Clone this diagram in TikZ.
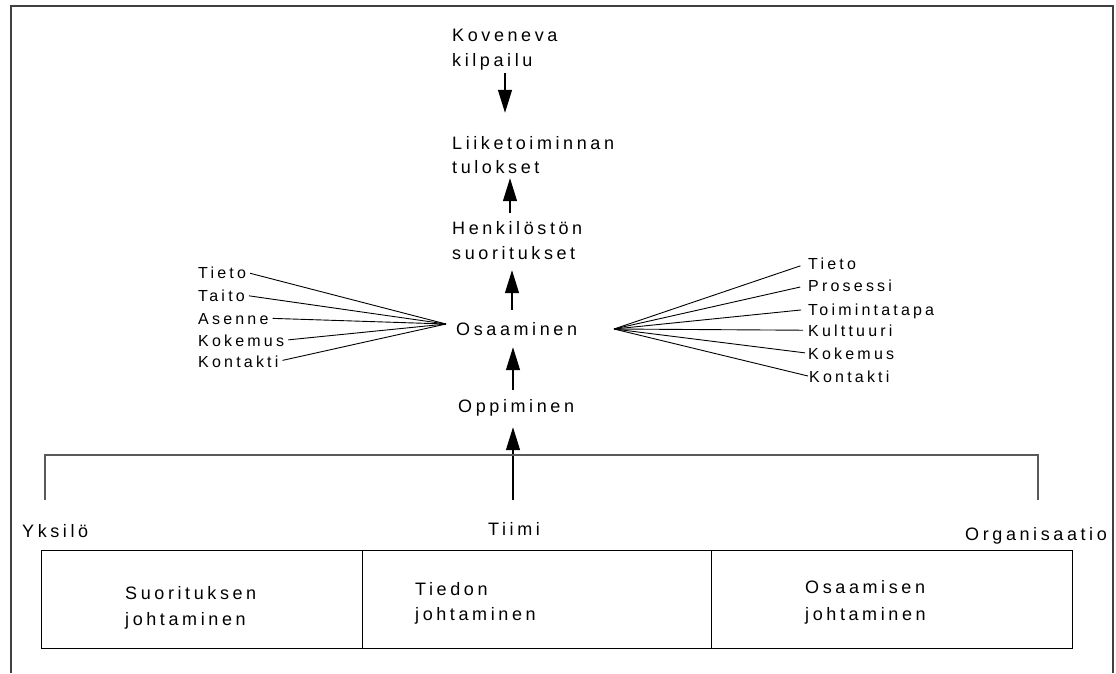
\documentclass[tikz,border=0pt]{standalone}
\usepackage{fontspec}
\setmainfont{Liberation Sans}
\newfontfamily\spaced{Liberation Sans}[LetterSpace=20]
\usetikzlibrary{arrows.meta}

\tikzset{
  big/.style={font=\spaced\fontsize{18}{20}\selectfont, inner sep=0pt,
    anchor=base west, text height=13pt, text depth=4pt},
  lsmall/.style={font=\spaced\fontsize{16}{18}\selectfont, inner sep=0pt,
    anchor=base west, text height=11.5pt, text depth=0pt},
  rsmall/.style={font=\spaced\fontsize{16}{18}\selectfont, inner sep=0pt,
    anchor=base west, text height=11.5pt, text depth=0pt},
  flow/.style={line width=1.2pt, -{Triangle[length=23pt,width=14pt]}},
  fan/.style={line width=0.9pt},
  framing/.style={line width=1.5pt, draw=black!75},
  bracket/.style={line width=1.5pt, draw=black!65},
  cell/.style={draw, line width=1.2pt, minimum height=98pt, inner sep=0pt,
    anchor=north west},
}

\begin{document}
\begin{tikzpicture}[x=1pt,y=-1pt]
\useasboundingbox (0,0) rectangle (1116,673);

% open frame
\draw[framing] (11,673) -- (11,6) -- (1113,6) -- (1113,673);

% central chain
\node[big] (kov1) at (452,41) {Koveneva};
\node[big] (kov2) at (452,66) {kilpailu};
\node[big] (liik1) at (452,149) {Liiketoiminnan};
\node[big] (liik2) at (452,173) {tulokset};
\node[big] (henk1) at (452,234) {Henkilöstön};
\node[big] (henk2) at (452,259) {suoritukset};
\node[big] (osaam) at (456,335) {Osaaminen};
\node[big] (opp) at (458,412) {Oppiminen};

% level labels
\node[big] (yks) at (22,537) {Yksilö};
\node[big] (tiimi) at (488,535) {Tiimi};
\node[big] (org) at (965,540) {Organisaatio};

% spine x positions
\coordinate (x1) at (505,0);
\coordinate (x2) at (510,0);
\coordinate (x3) at (512,0);
\coordinate (x4) at (513,0);

\draw[flow, shorten <=3pt, shorten >=23pt] (kov2.south -| x1) -- (liik1.north -| x1);
\draw[flow, shorten <=8pt, shorten >=1pt] (henk1.north -| x2) -- (liik2.south -| x2);
\draw[flow, shorten <=12pt, shorten >=7pt] (osaam.north -| x3) -- (henk2.south -| x3);
\draw[flow, shorten <=9pt, shorten >=8pt] (opp.north -| x4) -- (osaam.south -| x4);
\draw[flow, shorten <=22pt, shorten >=11pt] (tiimi.north -| x4) -- (opp.south -| x4);

% bracket over the three levels
\coordinate (bl) at (45,500);
\coordinate (br) at (1038,500);
\draw[bracket] (bl) -- ++(0,-45) -| (br);

% individual competence
\coordinate (convL) at (446,324);
\node[lsmall] (lt1) at (198,278) {Tieto};
\node[lsmall] (lt2) at (198,301) {Taito};
\node[lsmall] (lt3) at (198,324) {Asenne};
\node[lsmall] (lt4) at (198,346) {Kokemus};
\node[lsmall] (lt5) at (198,367) {Kontakti};
\foreach \n in {lt1,lt2,lt3,lt4,lt5}
  \draw[fan, shorten <=4pt] (\n.east) -- (convL);

% organisational competence
\coordinate (convR) at (614,329);
\node[rsmall] (rt1) at (808,269) {Tieto};
\node[rsmall] (rt2) at (808,291) {Prosessi};
\node[rsmall] (rt3) at (808,315) {Toimintatapa};
\node[rsmall] (rt4) at (808,336) {Kulttuuri};
\node[rsmall] (rt5) at (808,359) {Kokemus};
\node[rsmall] (rt6) at (809,382) {Kontakti};
\foreach \n/\g in {rt1/8,rt2/8,rt3/7,rt4/5,rt5/3,rt6/1}
  \draw[fan, shorten >=\g pt] (convR) -- (\n.west);

% management areas
\node[cell, minimum width=321pt] (c1) at (41,550) {};
\node[cell, minimum width=349pt] (c2) at (362,550) {};
\node[cell, minimum width=361pt] (c3) at (711,550) {};

\node[big] (c1a) at (125,599) {Suorituksen};
\node[big] (c1b) at (125,625) {johtaminen};
\node[big] (c2a) at (415,595) {Tiedon};
\node[big] (c2b) at (415,620) {johtaminen};
\node[big] (c3a) at (805,593) {Osaamisen};
\node[big] (c3b) at (805,620) {johtaminen};
\end{tikzpicture}
\end{document}
